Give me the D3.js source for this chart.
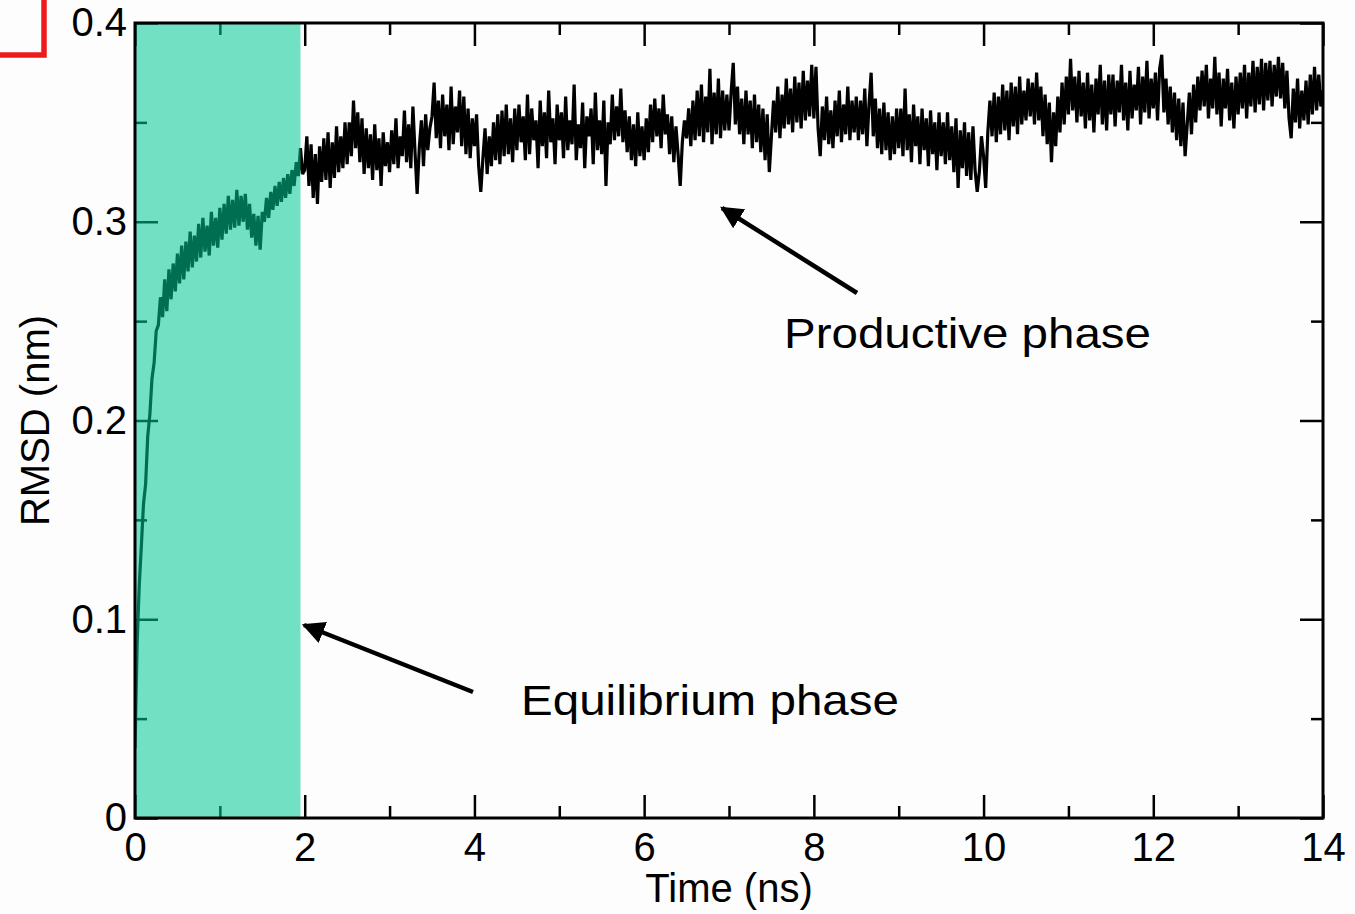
<!DOCTYPE html>
<html lang="en">
<head>
    <meta charset="UTF-8">
    <title>RMSD vs time</title>
    <script src="https://d3js.org/d3.v7.min.js"></script>
    <style>
        body { margin: 0; background: #fdfdfd; }
        svg { display: block; }
        .tick text { font-family: "Liberation Sans", Arial, sans-serif; font-size: 40px; fill: #000; }
        .tick line { stroke: #000; stroke-width: 2.5px; }
        .axis-title { font-family: "Liberation Sans", Arial, sans-serif; font-size: 40px; fill: #000; }
        .note { font-family: "Liberation Sans", Arial, sans-serif; font-size: 43px; fill: #000; }
    </style>
</head>
<body>
<svg width="1355" height="914"></svg>

<script>
    // RMSD samples every 0.025 ns (nm)
    const dt = 0.025;
    const rmsd = [
        0.035, 0.088, 0.117, 0.137, 0.158, 0.168, 0.192, 0.203, 0.221, 0.229, 0.245, 0.248, 0.262, 0.252, 0.271, 0.255, 0.276, 0.261, 0.279, 0.265,
        0.284, 0.269, 0.288, 0.271, 0.290, 0.275, 0.295, 0.277, 0.293, 0.280, 0.299, 0.282, 0.302, 0.285, 0.298, 0.283, 0.305, 0.288, 0.302, 0.287,
        0.307, 0.291, 0.309, 0.294, 0.313, 0.296, 0.311, 0.297, 0.316, 0.298, 0.313, 0.300, 0.314, 0.296, 0.309, 0.292, 0.304, 0.288, 0.303, 0.286,
        0.305, 0.300, 0.312, 0.302, 0.315, 0.306, 0.318, 0.308, 0.320, 0.310, 0.322, 0.312, 0.324, 0.314, 0.326, 0.318, 0.330, 0.323, 0.337, 0.324,
        0.326, 0.343, 0.318, 0.339, 0.312, 0.334, 0.309, 0.338, 0.320, 0.342, 0.321, 0.345, 0.317, 0.340, 0.322, 0.348, 0.325, 0.343, 0.327, 0.350,
        0.329, 0.350, 0.333, 0.361, 0.337, 0.355, 0.330, 0.352, 0.324, 0.347, 0.327, 0.344, 0.321, 0.349, 0.326, 0.342, 0.318, 0.345, 0.328, 0.340,
        0.325, 0.346, 0.329, 0.352, 0.327, 0.343, 0.333, 0.356, 0.330, 0.349, 0.327, 0.358, 0.335, 0.314, 0.337, 0.351, 0.328, 0.354, 0.336, 0.347,
        0.353, 0.370, 0.342, 0.361, 0.337, 0.364, 0.343, 0.359, 0.336, 0.368, 0.339, 0.358, 0.345, 0.366, 0.338, 0.363, 0.334, 0.357, 0.332, 0.352,
        0.338, 0.354, 0.328, 0.315, 0.332, 0.347, 0.324, 0.343, 0.328, 0.350, 0.331, 0.354, 0.329, 0.356, 0.333, 0.359, 0.334, 0.352, 0.330, 0.357,
        0.336, 0.359, 0.340, 0.353, 0.331, 0.364, 0.334, 0.357, 0.341, 0.351, 0.327, 0.361, 0.338, 0.355, 0.332, 0.366, 0.340, 0.352, 0.329, 0.359,
        0.341, 0.355, 0.332, 0.363, 0.336, 0.351, 0.339, 0.369, 0.331, 0.349, 0.337, 0.360, 0.327, 0.353, 0.343, 0.357, 0.329, 0.365, 0.336, 0.351,
        0.334, 0.361, 0.318, 0.350, 0.339, 0.364, 0.341, 0.358, 0.343, 0.367, 0.340, 0.356, 0.335, 0.353, 0.331, 0.349, 0.328, 0.355, 0.333, 0.348,
        0.331, 0.352, 0.335, 0.359, 0.340, 0.362, 0.343, 0.357, 0.337, 0.364, 0.344, 0.354, 0.334, 0.353, 0.330, 0.348, 0.334, 0.318, 0.340, 0.351,
        0.342, 0.357, 0.338, 0.361, 0.341, 0.366, 0.343, 0.369, 0.340, 0.363, 0.345, 0.377, 0.339, 0.365, 0.344, 0.372, 0.342, 0.366, 0.346, 0.364,
        0.346, 0.365, 0.380, 0.349, 0.368, 0.344, 0.362, 0.339, 0.366, 0.344, 0.361, 0.337, 0.364, 0.340, 0.359, 0.335, 0.357, 0.331, 0.354, 0.325,
        0.343, 0.361, 0.345, 0.368, 0.342, 0.364, 0.347, 0.372, 0.349, 0.367, 0.345, 0.373, 0.350, 0.370, 0.347, 0.376, 0.351, 0.371, 0.353, 0.379,
        0.352, 0.378, 0.347, 0.333, 0.358, 0.341, 0.363, 0.339, 0.356, 0.337, 0.361, 0.343, 0.366, 0.340, 0.359, 0.344, 0.368, 0.341, 0.361, 0.345,
        0.363, 0.341, 0.361, 0.344, 0.367, 0.338, 0.359, 0.375, 0.343, 0.362, 0.337, 0.357, 0.334, 0.360, 0.336, 0.355, 0.331, 0.353, 0.334, 0.357,
        0.337, 0.357, 0.333, 0.367, 0.336, 0.354, 0.330, 0.359, 0.338, 0.353, 0.329, 0.357, 0.336, 0.352, 0.328, 0.356, 0.334, 0.350, 0.326, 0.355,
        0.333, 0.350, 0.329, 0.355, 0.331, 0.348, 0.325, 0.352, 0.317, 0.346, 0.327, 0.350, 0.323, 0.345, 0.321, 0.348, 0.326, 0.315, 0.325, 0.343,
        0.333, 0.317, 0.345, 0.361, 0.343, 0.365, 0.340, 0.363, 0.344, 0.369, 0.346, 0.366, 0.341, 0.370, 0.348, 0.368, 0.344, 0.373, 0.349, 0.366,
        0.351, 0.372, 0.353, 0.370, 0.349, 0.375, 0.351, 0.368, 0.343, 0.364, 0.339, 0.360, 0.330, 0.355, 0.338, 0.363, 0.345, 0.370, 0.349, 0.373,
        0.354, 0.382, 0.356, 0.373, 0.350, 0.376, 0.353, 0.370, 0.347, 0.375, 0.351, 0.369, 0.345, 0.372, 0.354, 0.379, 0.349, 0.371, 0.346, 0.374,
        0.354, 0.374, 0.348, 0.371, 0.355, 0.379, 0.351, 0.370, 0.346, 0.376, 0.352, 0.369, 0.356, 0.378, 0.349, 0.373, 0.355, 0.381, 0.352, 0.372,
        0.357, 0.375, 0.351, 0.377, 0.384, 0.355, 0.372, 0.349, 0.368, 0.345, 0.365, 0.341, 0.362, 0.338, 0.360, 0.333, 0.349, 0.365, 0.344, 0.369,
        0.350, 0.373, 0.356, 0.376, 0.358, 0.379, 0.352, 0.372, 0.357, 0.383, 0.354, 0.375, 0.348, 0.372, 0.357, 0.377, 0.351, 0.370, 0.347, 0.373,
        0.354, 0.375, 0.357, 0.379, 0.352, 0.375, 0.358, 0.381, 0.355, 0.378, 0.359, 0.382, 0.356, 0.380, 0.361, 0.381, 0.358, 0.379, 0.363, 0.383,
        0.362, 0.380, 0.357, 0.376, 0.352, 0.342, 0.367, 0.350, 0.372, 0.347, 0.366, 0.351, 0.371, 0.349, 0.374, 0.354, 0.378, 0.356, 0.374, 0.358,
        0.366
    ];

    const xMajor = [0, 2, 4, 6, 8, 10, 12, 14];
    const xMinor = [1, 3, 5, 7, 9, 11, 13];
    const yMajor = [0, 0.1, 0.2, 0.3, 0.4];
    const yMinor = [0.05, 0.15, 0.25, 0.35];

    const equilibriumEnd = 1.95; // ns, end of shaded phase

    const notes = [
        { text: "Productive phase", tx: 784, ty: 348, len: 367, from: [857, 293], to: [722, 208] },
        { text: "Equilibrium phase", tx: 521, ty: 715, len: 378, from: [473, 692], to: [304, 625] }
    ];

    const m = { left: 135, right: 1323, top: 23, bottom: 818 };

    const svg = d3.select("svg");

    const x = d3.scaleLinear().domain([0, 14]).range([m.left, m.right]);
    const y = d3.scaleLinear().domain([0, 0.4]).range([m.bottom, m.top]);

    const points = rmsd.map((v, i) => [i * dt, v]);

    // red corner mark
    svg.append("path")
        .attr("d", "M0,55H44V0")
        .attr("fill", "none")
        .attr("stroke", "#ec1c1c")
        .attr("stroke-width", 5.5);

    svg.append("defs").append("clipPath").attr("id", "plot")
        .append("rect")
        .attr("x", m.left).attr("y", m.top)
        .attr("width", m.right - m.left).attr("height", m.bottom - m.top);

    svg.append("path")
        .datum(points)
        .attr("clip-path", "url(#plot)")
        .attr("fill", "none")
        .attr("stroke", "#000")
        .attr("stroke-width", 3.2)
        .attr("stroke-linejoin", "bevel")
        .attr("d", d3.line().x(d => x(d[0])).y(d => y(d[1])));

    // ticks on all four sides, pointing inward
    function addAxis(axis, tx, ty) {
        const g = svg.append("g")
            .attr("transform", `translate(${tx},${ty})`)
            .call(axis);
        g.select(".domain").remove();
        g.attr("font-family", null).attr("font-size", null);
        return g;
    }

    const yFmt = d => d === 0 ? "0" : d3.format(".1f")(d);

    addAxis(d3.axisBottom(x).tickValues(xMajor).tickSize(-23).tickPadding(15), 0, m.bottom);
    addAxis(d3.axisBottom(x).tickValues(xMinor).tickSize(-12).tickFormat(""), 0, m.bottom);
    addAxis(d3.axisTop(x).tickValues(xMajor).tickSize(-23).tickFormat(""), 0, m.top);
    addAxis(d3.axisTop(x).tickValues(xMinor).tickSize(-12).tickFormat(""), 0, m.top);
    addAxis(d3.axisLeft(y).tickValues(yMajor).tickSize(-23).tickPadding(8).tickFormat(yFmt), m.left, 0);
    addAxis(d3.axisLeft(y).tickValues(yMinor).tickSize(-12).tickFormat(""), m.left, 0);
    addAxis(d3.axisRight(y).tickValues(yMajor).tickSize(-23).tickFormat(""), m.right, 0);
    addAxis(d3.axisRight(y).tickValues(yMinor).tickSize(-12).tickFormat(""), m.right, 0);

    // shaded equilibrium phase
    svg.append("rect")
        .attr("x", x(0))
        .attr("y", m.top)
        .attr("width", x(equilibriumEnd) - x(0))
        .attr("height", m.bottom - m.top)
        .attr("fill", "rgb(0,200,148)")
        .attr("fill-opacity", 0.55);

    // frame
    svg.append("rect")
        .attr("x", m.left).attr("y", m.top)
        .attr("width", m.right - m.left).attr("height", m.bottom - m.top)
        .attr("fill", "none")
        .attr("stroke", "#000")
        .attr("stroke-width", 3);

    svg.append("text")
        .attr("class", "axis-title")
        .attr("x", (m.left + m.right) / 2)
        .attr("y", 902)
        .attr("text-anchor", "middle")
        .text("Time (ns)");

    svg.append("text")
        .attr("class", "axis-title")
        .attr("transform", `translate(49,${(m.top + m.bottom) / 2}) rotate(-90)`)
        .attr("text-anchor", "middle")
        .text("RMSD (nm)");

    // annotations
    svg.append("defs").append("marker")
        .attr("id", "head")
        .attr("viewBox", "0 0 10 10")
        .attr("refX", 9).attr("refY", 5)
        .attr("markerWidth", 5).attr("markerHeight", 5)
        .attr("markerUnits", "strokeWidth")
        .attr("orient", "auto")
        .append("path")
        .attr("d", "M0,0L10,5L0,10z")
        .attr("fill", "#000");

    svg.selectAll(".arrow")
        .data(notes)
        .enter().append("line")
        .attr("class", "arrow")
        .attr("x1", d => d.from[0]).attr("y1", d => d.from[1])
        .attr("x2", d => d.to[0]).attr("y2", d => d.to[1])
        .attr("stroke", "#000")
        .attr("stroke-width", 4.5)
        .attr("marker-end", "url(#head)");

    svg.selectAll(".note")
        .data(notes)
        .enter().append("text")
        .attr("class", "note")
        .attr("x", d => d.tx)
        .attr("y", d => d.ty)
        .attr("textLength", d => d.len)
        .attr("lengthAdjust", "spacingAndGlyphs")
        .text(d => d.text);
</script>

</body>
</html>
